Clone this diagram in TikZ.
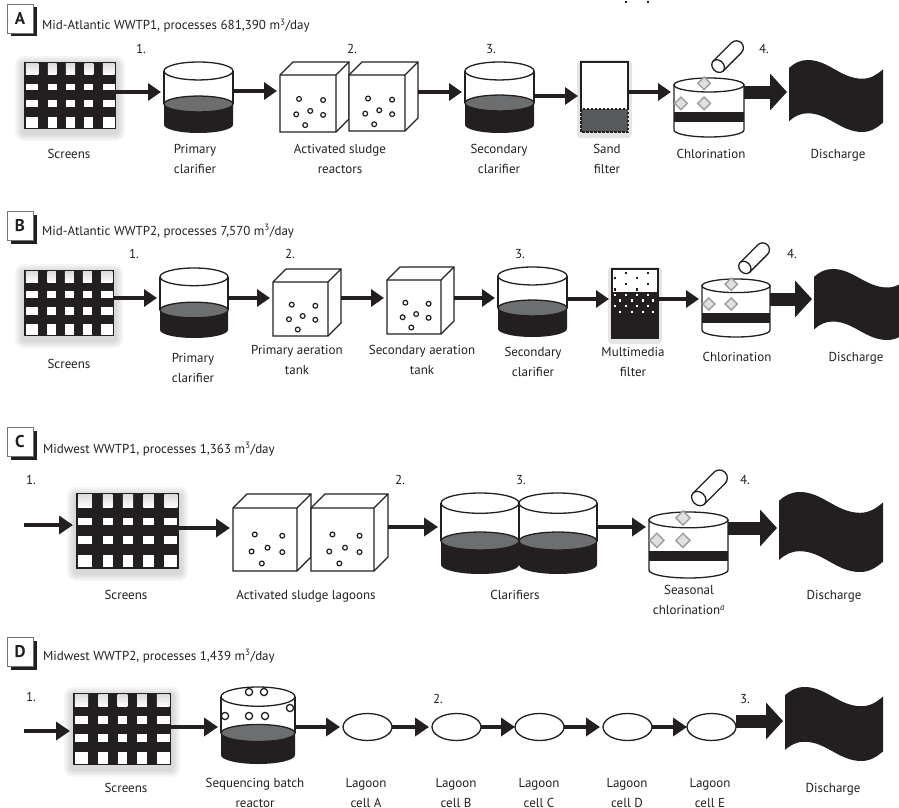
\documentclass[tikz,border=0pt]{standalone}
\usepackage{fontspec}
\setmainfont{PT Sans}
\usetikzlibrary{arrows.meta,shapes.geometric,shadows}
\definecolor{ink}{HTML}{231F20}
\definecolor{liq}{HTML}{6D6E70}
\definecolor{sand}{HTML}{58595B}

\tikzset{
    spot/.style={inner sep=0pt, outer sep=0pt, anchor=north west},
    shp/.style={draw=ink, line width=1.3pt, fill=white},
    flow/.style={-{Triangle[length=13pt,width=17pt]}, line width=3.6pt, draw=ink, shorten >=3pt},
    flowc/.style={-{Triangle[length=14pt,width=18pt]}, line width=4.6pt, draw=ink, shorten >=3pt},
    bigflow/.style={-{Triangle[length=17pt,width=36pt]}, line width=13pt, draw=ink, shorten >=2pt},
    lagoon/.style={shp, ellipse, inner sep=0pt, outer sep=0pt, minimum width=49pt, minimum height=27pt},
    lbl/.style={font=\fontsize{13}{20}\selectfont, text=ink, align=center, anchor=north, yshift=14pt, inner sep=0pt, execute at begin node=\strut},
    num/.style={font=\fontsize{13}{20}\selectfont, text=ink, anchor=base, inner sep=0pt},
    ttl/.style={font=\fontsize{13}{20}\selectfont, text=ink, anchor=base west, inner sep=0pt},
    badge/.style={draw=black!55, fill=white, line width=.7pt, minimum width=26pt, minimum height=29pt, inner sep=0pt,
        font=\fontsize{17}{20}\bfseries\selectfont, text=ink,
        drop shadow={shadow xshift=3.5pt, shadow yshift=-3.5pt, fill=ink, opacity=1}},
    % screens: width, height
    pics/screens/.style n args={2}{code={
        \foreach \s in {9,7,5,3}
            \fill[black, opacity=.04, rounded corners=\s] (-\s,{-\s+3}) rectangle ({#1+\s},{#2+\s+3});
        \fill[ink] (0,0) rectangle (#1,#2);
        \foreach \a/\b in {.02/.155,.26/.355,.455/.555,.655/.755,.857/.985}{
            \fill[top color=black!14, bottom color=white] ({\a*#1},{.02*#2}) rectangle ({\b*#1},{.19*#2});
            \foreach \c/\d in {.325/.425,.565/.675,.815/.98}
                \fill[white] ({\a*#1},{\c*#2}) rectangle ({\b*#1},{\d*#2});
        }
        \node[spot, minimum width=#1, minimum height=#2] (-f) at (0,0) {};
    }},
    % clarifier: width, height, level of the liquid
    pics/clar/.style n args={3}{code={
        \fill[ink] (0,#3) -- (0,{#2-.12*#1}) arc[start angle=180, end angle=0, x radius=#1/2, y radius=.12*#1] -- (#1,#3) -- cycle;
        \draw[shp, fill=liq] ({#1/2},#3) ellipse[x radius=#1/2, y radius=.115*#1];
        \draw[draw=ink, line width=1.3pt] (0,{.13*#1}) -- (0,#3) (#1,{.13*#1}) -- (#1,#3);
        \draw[shp] ({#1/2},{.13*#1}) ellipse[x radius=#1/2, y radius=.13*#1];
        \node[spot, minimum width=#1, minimum height=#2] (-f) at (0,0) {};
    }},
    % cube: front width, front height, depth
    pics/cube/.style n args={3}{code={
        \draw[shp] (0,#3) -- (#3,0) -- ({#1+#3},0) -- ({#1+#3},#2) -- (#1,{#2+#3}) -- (0,{#2+#3}) -- cycle;
        \draw[draw=ink, line width=1.3pt] (0,#3) -- (#1,#3) -- ({#1+#3},0) (#1,#3) -- (#1,{#2+#3});
        \foreach \a/\b in {.34/.42,.77/.44,.29/.69,.54/.63,.77/.70,.45/.88}
            \draw[draw=ink, line width=1.2pt] ({\a*#1},{#3+\b*#2}) circle[radius=2.4];
        \node[spot, minimum width=#1+#3, minimum height=#2+#3] (-f) at (0,0) {};
    }},
    % chlorination: width, height, top and bottom of the band
    pics/chlor/.style n args={4}{code={
        \draw[shp] (0,{.1*#1}) -- (0,{#2-.1*#1}) arc[start angle=180, end angle=0, x radius=#1/2, y radius=.1*#1] -- (#1,{.1*#1}) -- cycle;
        \fill[ink] (0,#3) rectangle (#1,#4);
        \draw[shp] ({#1/2},{.1*#1}) ellipse[x radius=#1/2, y radius=.1*#1];
        \foreach \a/\b in {.43/.09,.1/.43,.43/.43}
            \draw[draw=black!38, line width=1.4pt, fill=black!12] ({\a*#1-.09*#1},{\b*#2}) -- ({\a*#1},{\b*#2-.09*#1}) -- ({\a*#1+.09*#1},{\b*#2}) -- ({\a*#1},{\b*#2+.09*#1}) -- cycle;
        \begin{scope}[shift={({.63*#1},{-.17*#1})}, rotate=45]
            \draw[shp] (0,{-.1*#1}) -- ({.37*#1},{-.1*#1}) arc[start angle=-90, end angle=90, radius=.1*#1] -- (0,{.1*#1}) -- cycle;
            \draw[shp] (0,0) ellipse[x radius=.08*#1, y radius=.1*#1];
        \end{scope}
        \node[spot, minimum width=#1, minimum height=#2] (-f) at (0,0) {};
    }},
    % discharge: width, height
    pics/dis/.style n args={2}{code={
        \fill[ink] (0,{.11*#2}) .. controls ({.06*#1},{.04*#2}) and ({.12*#1},0) .. ({.2*#1},0)
            .. controls ({.42*#1},0) and ({.55*#1},{.26*#2}) .. ({.78*#1},{.26*#2})
            .. controls ({.87*#1},{.26*#2}) and ({.94*#1},{.2*#2}) .. (#1,{.13*#2})
            -- (#1,{.87*#2})
            .. controls ({.94*#1},{.94*#2}) and ({.87*#1},#2) .. ({.78*#1},#2)
            .. controls ({.55*#1},#2) and ({.42*#1},{.74*#2}) .. ({.2*#1},{.74*#2})
            .. controls ({.12*#1},{.74*#2}) and ({.06*#1},{.78*#2}) .. (0,{.85*#2}) -- cycle;
        \node[spot, minimum width=#1, minimum height=#2] (-f) at (0,0) {};
    }}
}

\begin{document}
\begin{tikzpicture}[x=1pt, y=-1pt]
\useasboundingbox (0,0) rectangle (899,808);

% panel A
\node[badge] (bdgA) at (20,18.5) {A};
\node[ttl] (ttlA) at (42,30) {Mid-Atlantic WWTP1, processes 681,390 m\textsuperscript{3}/day};
\pic (scrA) at (24,62) {screens={92}{67}};
\pic (prmA) at (164,62) {clar={69}{71}{42}};
\pic (actA) at (280,62) {cube={56}{57}{13}};
\pic (acbA) at (349,62) {cube={56}{56}{13}};
\pic (secA) at (465,62) {clar={69}{71}{41}};
\fill[black, opacity=.1, rounded corners=4] (577,60) rectangle (632,138);
\fill[white] (581,62) rectangle (628,109);
\draw[draw=ink, line width=1.3pt] (628,109) -- (628,62) -- (581,62) -- (581,109);
\draw[draw=ink, fill=sand, line width=1.2pt, dash pattern=on 2.5pt off 1.5pt] (581,109) rectangle (628,132);
\node[spot, minimum width=47, minimum height=70] (sndA) at (581,62) {};
\pic (chlA) at (674,78) {chlor={70}{59}{34}{44}};
\pic (disA) at (789,60) {dis={94}{72}};
\draw[flow] (scrA-f.east |- 0,92) -- (prmA-f.west |- 0,92);
\draw[flow] (prmA-f.east |- 0,91) -- (actA-f.west |- 0,91);
\draw[flow] (acbA-f.east |- 0,92) -- (secA-f.west |- 0,92);
\draw[flow] (secA-f.east |- 0,96) -- (sndA.west |- 0,96);
\draw[flow] (sndA.east |- 0,92) -- (chlA-f.west |- 0,92);
\draw[bigflow] (chlA-f.east |- 0,92) -- (disA-f.west |- 0,92);
\node[num] (n1A) at (141,54) {1.};
\node[num] (n2A) at (352,54) {2.};
\node[num] (n3A) at (491,54) {3.};
\node[num] (n4A) at (764,54) {4.};
\node[lbl] (lscrA) at (69,158) {Screens};
\node[lbl] (lprmA) at (195,158) {Primary\\clarifier};
\node[lbl] (lactA) at (340,158) {Activated sludge\\reactors};
\node[lbl] (lsecA) at (499,158) {Secondary\\clarifier};
\node[lbl] (lsndA) at (607,158) {Sand\\filter};
\node[lbl] (lchlA) at (711,158) {Chlorination};
\node[lbl] (ldisA) at (838,158) {Discharge};

% panel B
\node[badge] (bdgB) at (20,225.5) {B};
\node[ttl] (ttlB) at (42,235) {Mid-Atlantic WWTP2, processes 7,570 m\textsuperscript{3}/day};
\pic (scrB) at (24,270) {screens={90}{66}};
\pic (prmB) at (160,268) {clar={68}{70}{42}};
\pic (aerB) at (273,269) {cube={55}{54}{13}};
\pic (aebB) at (387,267) {cube={54}{54}{13}};
\pic (secB) at (498,267) {clar={69}{70}{41}};
\fill[black, opacity=.1, rounded corners=4] (608,267) rectangle (662,344);
\draw[shp] (612,269) rectangle (658,338);
\fill[ink] (612,292) rectangle (658,338);
\foreach \y in {271.7,283,} {
    \foreach \x in {14,36} \fill[ink] ({612+\x-1.2},{\y}) rectangle ++(2.4,2.4);
}
\foreach \y in {276.7,288.3} {
    \foreach \x in {3,25} \fill[ink] ({612+\x-1.2},{\y}) rectangle ++(2.4,2.4);
}
\foreach \y in {294,305} {
    \foreach \x in {3,14,25,36} \fill[white] ({612+\x-1.2},{\y}) rectangle ++(2.4,2.4);
}
\foreach \y in {299.3,310.7} {
    \foreach \x in {8,20,31,41} \fill[white] ({612+\x-1.2},{\y}) rectangle ++(2.4,2.4);
}
\node[spot, minimum width=46, minimum height=69] (medB) at (612,269) {};
\pic (chlB) at (702,279) {chlor={68}{58}{34}{44}};
\pic (disB) at (814,269) {dis={94}{71}};
\draw[flow] (scrB-f.east |- 0,298) -- (prmB-f.west |- 0,298);
\draw[flow] (prmB-f.east |- 0,298) -- (aerB-f.west |- 0,298);
\draw[flow] (aerB-f.east |- 0,298) -- (aebB-f.west |- 0,298);
\draw[flow] (aebB-f.east |- 0,298) -- (secB-f.west |- 0,298);
\draw[flow] (secB-f.east |- 0,299) -- (medB.west |- 0,299);
\draw[flow] (medB.east |- 0,299) -- (chlB-f.west |- 0,299);
\draw[bigflow] (chlB-f.east |- 0,299) -- (disB-f.west |- 0,299);
\node[num] (n1B) at (134,258) {1.};
\node[num] (n2B) at (290,258) {2.};
\node[num] (n3B) at (520,258) {3.};
\node[num] (n4B) at (792,258) {4.};
\node[lbl] (lscrB) at (69,368) {Screens};
\node[lbl] (lprmB) at (193,367) {Primary\\clarifier};
\node[lbl] (laerB) at (297,359) {Primary aeration\\tank};
\node[lbl] (laebB) at (422,359) {Secondary aeration\\tank};
\node[lbl] (lsecB) at (533,361) {Secondary\\clarifier};
\node[lbl] (lmedB) at (633,361) {Multimedia\\filter};
\node[lbl] (lchlB) at (737,361) {Chlorination};
\node[lbl] (ldisB) at (856,361) {Discharge};

% panel C
\node[badge] (bdgC) at (20,442) {C};
\node[ttl] (ttlC) at (43,453) {Midwest WWTP1, processes 1,363 m\textsuperscript{3}/day};
\coordinate (inC) at (24,525);
\pic (scrC) at (76,493) {screens={103}{76}};
\pic (actC) at (233,494) {cube={64}{63}{14}};
\pic (acbC) at (311,494) {cube={63}{63}{14}};
\pic (claC) at (441,493) {clar={78}{81}{48}};
\pic (clbC) at (519,493) {clar={78}{81}{48}};
\pic (chlC) at (649,512) {chlor={79}{66}{39}{49}};
\pic (disC) at (779,492) {dis={104}{80}};
\draw[flowc] (inC) -- (scrC-f.west |- inC);
\draw[flowc] (scrC-f.east |- 0,528) -- (actC-f.west |- 0,528);
\draw[flowc] (acbC-f.east |- 0,527) -- (claC-f.west |- 0,527);
\draw[flowc] (clbC-f.east |- 0,527) -- (chlC-f.west |- 0,527);
\draw[bigflow] (chlC-f.east |- 0,528) -- (disC-f.west |- 0,528);
\node[num] (n1C) at (31,484) {1.};
\node[num] (n2C) at (400,484) {2.};
\node[num] (n3C) at (521,484) {3.};
\node[num] (n4C) at (745,484) {4.};
\node[lbl] (lscrC) at (126,599) {Screens};
\node[lbl] (lactC) at (306,599) {Activated sludge lagoons};
\node[lbl] (lclaC) at (515,599) {Clarifiers};
\node[lbl] (lchlC) at (689,599) {Seasonal\\chlorination\textsuperscript{\textit{a}}};
\node[lbl] (ldisC) at (834,599) {Discharge};

% panel D
\node[badge] (bdgD) at (20,651.5) {D};
\node[ttl] (ttlD) at (43,660) {Midwest WWTP2, processes 1,439 m\textsuperscript{3}/day};
\coordinate (inD) at (24,731);
\pic (scrD) at (73,693) {screens={98}{72}};
\pic (sbrD) at (221,687) {clar={74}{77}{46}};
\foreach \x/\y in {249/692,264/692,225/716,249/716,265/716,290/708}
    \draw[shp] (\x,\y) circle[radius=3.6];
\node[lagoon] (lagA) at (367.5,727) {};
\node[lagoon] (lagB) at (456.5,727) {};
\node[lagoon] (lagC) at (539.5,727) {};
\node[lagoon] (lagD) at (627.5,727) {};
\node[lagoon] (lagE) at (711.5,727) {};
\pic (disD) at (785,687) {dis={98}{74}};
\draw[flowc] (inD) -- (scrD-f.west |- inD);
\draw[flowc] (scrD-f.east |- 0,727) -- (sbrD-f.west |- 0,727);
\draw[flowc] (sbrD-f.east |- 0,727) -- (lagA);
\draw[flowc] (lagA) -- (lagB);
\draw[flowc, shorten >=0pt] (lagB) -- (lagC);
\draw[flowc] (lagC) -- (lagD);
\draw[flowc, shorten >=0pt] (lagD) -- (lagE);
\draw[bigflow] (lagE.east |- 0,721) -- (disD-f.west |- 0,721);
\node[num] (n1D) at (31,701) {1.};
\node[num] (n2D) at (438,703) {2.};
\node[num] (n3D) at (745,703) {3.};
\node[lbl] (lscrD) at (126,792) {Screens};
\node[lbl] (lsbrD) at (255,792) {Sequencing batch\\reactor};
\node[lbl] (llagA) at (366,792) {Lagoon\\cell A};
\node[lbl] (llagB) at (456,792) {Lagoon\\cell B};
\node[lbl] (llagC) at (539,792) {Lagoon\\cell C};
\node[lbl] (llagD) at (627,792) {Lagoon\\cell D};
\node[lbl] (llagE) at (710,792) {Lagoon\\cell E};
\node[lbl] (ldisD) at (833,792) {Discharge};
\end{tikzpicture}
\end{document}
